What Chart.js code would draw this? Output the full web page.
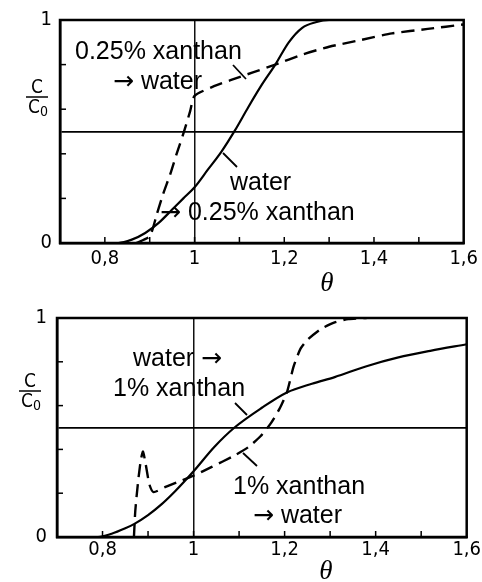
<!DOCTYPE html>
<html>
<head>
<meta charset="utf-8">
<script src="https://cdn.jsdelivr.net/npm/chart.js@4/dist/chart.umd.min.js"></script>
<style>
  html,body{margin:0;padding:0;background:#fff;}
  body{width:482px;height:582px;position:relative;overflow:hidden;}
  canvas{position:absolute;left:0;}
  #c1{top:0;}
  #c2{top:291px;}
</style>
</head>
<body>
<canvas id="c1" width="482" height="291"></canvas>
<canvas id="c2" width="482" height="291"></canvas>
<script>
// ---------- data ----------
// Top panel: water -> 0.25% xanthan (solid)
const topSolidTheta = [0.70, 0.83, 0.86, 0.89, 0.92, 0.95, 0.975, 1.00, 1.03, 1.06, 1.09, 1.12, 1.15, 1.18, 1.21, 1.24, 1.27, 1.30, 1.40, 1.50, 1.60];
const topSolidC     = [0.00, 0.00, 0.015, 0.045, 0.09, 0.15, 0.20, 0.25, 0.33, 0.41, 0.505, 0.61, 0.71, 0.80, 0.90, 0.965, 0.99, 1.00, 1.00, 1.00, 1.00];
// Top panel: 0.25% xanthan -> water (dashed)
const topDashTheta = [0.87, 0.90, 0.916, 0.93, 0.946, 0.96, 0.975, 0.99, 1.00, 1.04, 1.08, 1.13, 1.18, 1.24, 1.30, 1.37, 1.44, 1.52, 1.60];
const topDashC     = [0.00, 0.03, 0.13, 0.22, 0.31, 0.40, 0.49, 0.59, 0.66, 0.70, 0.73, 0.765, 0.80, 0.845, 0.88, 0.91, 0.94, 0.96, 0.98];
// Bottom panel: water -> 1% xanthan (solid)
const botSolidTheta = [0.70, 0.79, 0.82, 0.85, 0.87, 0.90, 0.93, 0.96, 1.00, 1.045, 1.09, 1.15, 1.205, 1.26, 1.31, 1.38, 1.45, 1.52, 1.60];
const botSolidC     = [0.00, 0.00, 0.015, 0.04, 0.06, 0.10, 0.15, 0.21, 0.30, 0.41, 0.50, 0.59, 0.66, 0.70, 0.73, 0.78, 0.82, 0.85, 0.88];
// Bottom panel: 1% xanthan -> water (dashed)
const botDashTheta = [0.869, 0.872, 0.878, 0.884, 0.889, 0.895, 0.903, 0.912, 0.94, 0.97, 1.00, 1.04, 1.088, 1.12, 1.147, 1.17, 1.19, 1.205, 1.22, 1.235, 1.25, 1.28, 1.31, 1.34, 1.38];
const botDashC     = [0.00, 0.12, 0.25, 0.35, 0.39, 0.33, 0.24, 0.205, 0.23, 0.255, 0.28, 0.32, 0.37, 0.41, 0.46, 0.52, 0.59, 0.66, 0.78, 0.86, 0.90, 0.95, 0.98, 0.995, 1.00];

const xTickLabels = {"0.8": "0,8", "1": "1", "1.2": "1,2", "1.4": "1,4", "1.6": "1,6"};
const yTickLabels = {"0": "0", "1": "1"};

// ---------- helpers ----------
function pts(xs, ys){ return xs.map((x,i)=>({x:x, y:ys[i]})); }
const near = (a,b)=>Math.abs(a-b)<1e-6;
const SANS = '"Liberation Sans", Arial, sans-serif';
const ARROWFONT = '25px "DejaVu Sans", sans-serif';
const TICKFONT = '"DejaVu Sans Condensed", "Liberation Sans Narrow", sans-serif';

// draws text, rendering the arrow glyph with a wider font like the reference
function drawLabel(ctx, text, x, y){
  const parts = text.split(/(→)/);
  let cx = x;
  parts.forEach(p => {
    if (!p) return;
    ctx.font = (p === '→') ? ARROWFONT : '25px ' + SANS;
    ctx.fillText(p, cx, y);
    cx += ctx.measureText(p).width;
  });
}

const decorPlugin = {
  id:'decor',
  afterDatasetsDraw(chart, args, opts){
    const {ctx, chartArea:a, scales:{x, y}} = chart;
    ctx.save();
    // inner tick marks
    ctx.strokeStyle = '#000'; ctx.lineWidth = 1.5;
    for (let k = 8; k <= 15; k++){
      const px = x.getPixelForValue(k/10);
      ctx.beginPath(); ctx.moveTo(px, a.bottom); ctx.lineTo(px, a.bottom-6); ctx.stroke();
    }
    for (let k = 2; k <= 8; k += 2){
      const py = y.getPixelForValue(k/10);
      ctx.beginPath(); ctx.moveTo(a.left, py); ctx.lineTo(a.left+6, py); ctx.stroke();
    }
    // frame
    ctx.lineWidth = 2.5;
    ctx.strokeRect(a.left, a.top, a.right-a.left, a.bottom-a.top);
    // annotations
    ctx.fillStyle = '#000';
    ctx.textAlign = 'left'; ctx.textBaseline = 'middle';
    opts.texts.forEach(t => drawLabel(ctx, t[0], t[1], t[2]));
    ctx.lineWidth = 1.8;
    opts.leaders.forEach(l => { ctx.beginPath(); ctx.moveTo(l[0], l[1]); ctx.lineTo(l[2], l[3]); ctx.stroke(); });
    // theta axis title
    ctx.font = 'italic 27px "Liberation Serif", "DejaVu Serif", serif';
    ctx.textAlign = 'center';
    ctx.fillText('θ', opts.theta[0], opts.theta[1]);
    // C / C0 label
    const [cx, cy] = opts.cc;
    ctx.font = '19px ' + TICKFONT;
    ctx.fillText('C', cx, cy-9);
    ctx.lineWidth = 1.5;
    ctx.beginPath(); ctx.moveTo(cx-11, cy); ctx.lineTo(cx+11, cy); ctx.stroke();
    ctx.fillText('C', cx-3, cy+11);
    ctx.font = '14px ' + TICKFONT;
    ctx.fillText('0', cx+7, cy+15);
    ctx.restore();
  }
};

function makeChart(id, solid, dash, lay, deco){
  return new Chart(document.getElementById(id), {
    type:'line',
    data:{ datasets:[
      { data: solid, borderColor:'#000', borderWidth:2.2, pointRadius:0, cubicInterpolationMode:'monotone', fill:false },
      { data: dash, borderColor:'#000', borderWidth:2.4, borderDash:[13,7], pointRadius:0, tension:0.2, fill:false }
    ]},
    options:{
      responsive:false, animation:false, devicePixelRatio:1,
      layout:{ padding:{ left:0, top:lay.top, right:lay.right, bottom:0 } },
      plugins:{ legend:{display:false}, tooltip:{enabled:false}, decor: deco },
      scales:{
        x:{
          type:'linear', min:0.7, max:1.6,
          afterFit(s){ s.height = lay.xh; },
          ticks:{ stepSize:0.1, autoSkip:false, maxRotation:0, padding:lay.xpad, color:'#000',
                  font:{ family:TICKFONT, size:20 },
                  callback:(v)=>{ for (const k in xTickLabels) if (near(v, +k)) return xTickLabels[k]; return ''; } },
          grid:{ drawTicks:false, lineWidth:1.5, color:(c)=> (c.tick && near(c.tick.value,1)) ? '#111' : 'rgba(0,0,0,0)' },
          border:{ display:true, color:'#000', width:2.5 }
        },
        y:{
          type:'linear', min:0, max:1,
          afterFit(s){ s.width = lay.yw; },
          ticks:{ stepSize:0.1, autoSkip:false, padding:lay.ypad, color:'#000',
                  font:{ family:TICKFONT, size:20 },
                  callback:(v)=>{ for (const k in yTickLabels) if (near(v, +k)) return yTickLabels[k]; return ''; } },
          grid:{ drawTicks:false, lineWidth:1.8, color:(c)=> (c.tick && near(c.tick.value,0.5)) ? '#000' : 'rgba(0,0,0,0)' },
          border:{ display:true, color:'#000', width:2.5 }
        }
      }
    },
    plugins:[decorPlugin]
  });
}

makeChart('c1', pts(topSolidTheta, topSolidC), pts(topDashTheta, topDashC),
  { top:19, right:12, xh:48, yw:60, xpad:4, ypad:8 },
  { texts:[['0.25% xanthan',75,52],['→ water',113,82],['water',230,183],['→ 0.25% xanthan',160,213]],
    leaders:[[233,65,246,79],[223,153,237,167]],
    theta:[327,284], cc:[37,97] });

makeChart('c2', pts(botSolidTheta, botSolidC), pts(botDashTheta, botDashC),
  { top:27, right:14, xh:45, yw:57, xpad:1, ypad:10 },
  { texts:[['water →',133,68],['1% xanthan',113,98],['1% xanthan',233,196],['→ water',253,225]],
    leaders:[[235,112,247,124],[243,162,257,175]],
    theta:[326,281], cc:[30,100] });
</script>
</body>
</html>
